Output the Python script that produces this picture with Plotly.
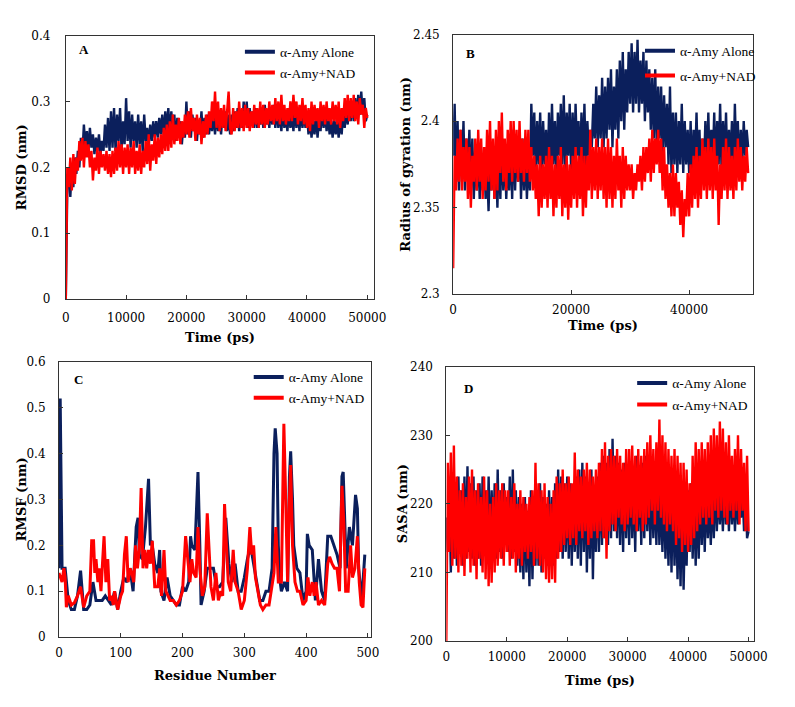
import plotly.graph_objects as go

PAGE_W, PAGE_H = 795, 707
PAD = 8  # default body margin of the page
W, H = PAGE_W - 2 * PAD, PAGE_H - 2 * PAD
NAVY = "#0B1F5C"
RED = "#FF0000"

# ---------------- Panel A : RMSD (nm), sampled every 250 ps ----------------
rmsd_step = 250
rmsd_alone = [
    0.0, 0.17, 0.19, 0.155, 0.2, 0.17, 0.215, 0.19, 0.225, 0.2,
    0.245, 0.22, 0.265, 0.23, 0.255, 0.225, 0.26, 0.23, 0.25, 0.22,
    0.245, 0.225, 0.25, 0.22, 0.24, 0.225, 0.265, 0.23, 0.275, 0.225,
    0.285, 0.23, 0.29, 0.225, 0.28, 0.24, 0.29, 0.225, 0.27, 0.235,
    0.305, 0.24, 0.285, 0.23, 0.28, 0.24, 0.27, 0.23, 0.28, 0.235,
    0.27, 0.225, 0.28, 0.24, 0.26, 0.235, 0.265, 0.24, 0.27, 0.245,
    0.27, 0.245, 0.275, 0.25, 0.28, 0.245, 0.285, 0.255, 0.29, 0.25,
    0.285, 0.255, 0.28, 0.24, 0.275, 0.25, 0.27, 0.235, 0.265, 0.245,
    0.3, 0.25, 0.285, 0.245, 0.28, 0.255, 0.275, 0.24, 0.27, 0.25,
    0.285, 0.245, 0.275, 0.25, 0.28, 0.25, 0.275, 0.255, 0.28, 0.25,
    0.285, 0.255, 0.275, 0.25, 0.28, 0.26, 0.285, 0.255, 0.28, 0.25,
    0.28, 0.255, 0.285, 0.26, 0.29, 0.255, 0.285, 0.26, 0.3, 0.265,
    0.3, 0.26, 0.29, 0.265, 0.285, 0.26, 0.29, 0.26, 0.285, 0.265,
    0.29, 0.26, 0.295, 0.265, 0.285, 0.26, 0.29, 0.265, 0.295, 0.26,
    0.29, 0.26, 0.285, 0.255, 0.29, 0.26, 0.28, 0.255, 0.285, 0.26,
    0.28, 0.255, 0.29, 0.26, 0.285, 0.255, 0.29, 0.26, 0.285, 0.26,
    0.28, 0.25, 0.275, 0.245, 0.27, 0.25, 0.28, 0.245, 0.275, 0.255,
    0.29, 0.26, 0.285, 0.255, 0.28, 0.25, 0.27, 0.245, 0.275, 0.25,
    0.27, 0.245, 0.275, 0.25, 0.285, 0.26, 0.29, 0.265, 0.3, 0.27,
    0.3, 0.27, 0.305, 0.275, 0.31, 0.28, 0.315, 0.28, 0.305, 0.27,
    0.28]
rmsd_nad = [
    0.0, 0.2, 0.17, 0.215, 0.165, 0.22, 0.175, 0.215, 0.195, 0.24,
    0.21, 0.245, 0.2, 0.24, 0.215, 0.235, 0.2, 0.225, 0.18, 0.215,
    0.195, 0.23, 0.19, 0.225, 0.2, 0.22, 0.195, 0.225, 0.19, 0.22,
    0.185, 0.225, 0.19, 0.23, 0.195, 0.24, 0.2, 0.235, 0.19, 0.23,
    0.2, 0.235, 0.19, 0.23, 0.2, 0.24, 0.19, 0.225, 0.195, 0.235,
    0.19, 0.225, 0.2, 0.24, 0.205, 0.25, 0.195, 0.235, 0.21, 0.25,
    0.205, 0.245, 0.215, 0.25, 0.22, 0.26, 0.225, 0.265, 0.225, 0.27,
    0.23, 0.28, 0.235, 0.265, 0.24, 0.275, 0.235, 0.27, 0.245, 0.28,
    0.25, 0.285, 0.245, 0.29, 0.255, 0.275, 0.24, 0.28, 0.25, 0.275,
    0.235, 0.27, 0.245, 0.28, 0.25, 0.285, 0.26, 0.3, 0.27, 0.315,
    0.26, 0.3, 0.255, 0.29, 0.26, 0.295, 0.255, 0.28, 0.315, 0.26,
    0.25, 0.29, 0.255, 0.285, 0.26, 0.3, 0.26, 0.29, 0.255, 0.295,
    0.26, 0.29, 0.255, 0.285, 0.26, 0.295, 0.265, 0.29, 0.26, 0.3,
    0.265, 0.295, 0.26, 0.29, 0.265, 0.3, 0.27, 0.295, 0.265, 0.305,
    0.27, 0.3, 0.265, 0.31, 0.27, 0.295, 0.265, 0.29, 0.27, 0.3,
    0.27, 0.31, 0.275, 0.3, 0.265, 0.295, 0.27, 0.305, 0.265, 0.295,
    0.26, 0.29, 0.255, 0.3, 0.265, 0.295, 0.27, 0.29, 0.26, 0.3,
    0.27, 0.295, 0.265, 0.3, 0.27, 0.29, 0.265, 0.3, 0.27, 0.295,
    0.265, 0.3, 0.26, 0.29, 0.27, 0.305, 0.275, 0.31, 0.27, 0.305,
    0.275, 0.31, 0.27, 0.3, 0.265, 0.305, 0.28, 0.295, 0.26, 0.29,
    0.275]

# ---------------- Panel B : Radius of gyration (nm), every 250 ps ----------------
rg_step = 250
rg_alone = [
    2.38, 2.41, 2.365, 2.4, 2.36, 2.395, 2.37, 2.4, 2.36, 2.39,
    2.37, 2.395, 2.36, 2.39, 2.355, 2.385, 2.36, 2.385, 2.355, 2.38,
    2.36, 2.385, 2.355, 2.375, 2.348, 2.38, 2.36, 2.385, 2.355, 2.38,
    2.35, 2.385, 2.355, 2.39, 2.36, 2.385, 2.355, 2.38, 2.36, 2.39,
    2.355, 2.395, 2.36, 2.39, 2.365, 2.395, 2.355, 2.39, 2.36, 2.385,
    2.355, 2.38, 2.36, 2.41, 2.38, 2.405, 2.37, 2.4, 2.375, 2.405,
    2.37, 2.4, 2.375, 2.395, 2.365, 2.405, 2.37, 2.41, 2.375, 2.4,
    2.37, 2.405, 2.38, 2.41, 2.375, 2.415, 2.37, 2.405, 2.38, 2.41,
    2.37, 2.405, 2.375, 2.41, 2.38, 2.4, 2.37, 2.405, 2.375, 2.41,
    2.37, 2.4, 2.38, 2.395, 2.385, 2.41, 2.39, 2.42, 2.385, 2.415,
    2.39, 2.425, 2.385, 2.42, 2.39, 2.425, 2.395, 2.43, 2.385, 2.42,
    2.395, 2.43, 2.39, 2.435, 2.4, 2.44, 2.395, 2.43, 2.405, 2.44,
    2.41, 2.445, 2.405, 2.44, 2.41, 2.447, 2.405, 2.435, 2.41, 2.44,
    2.4, 2.435, 2.405, 2.43, 2.395, 2.425, 2.39, 2.43, 2.385, 2.42,
    2.39, 2.42, 2.38, 2.415, 2.385, 2.41, 2.375, 2.42, 2.37, 2.405,
    2.375, 2.405, 2.37, 2.4, 2.375, 2.41, 2.37, 2.4, 2.375, 2.395,
    2.37, 2.4, 2.365, 2.395, 2.375, 2.405, 2.37, 2.395, 2.365, 2.39,
    2.37, 2.4, 2.375, 2.405, 2.37, 2.395, 2.375, 2.405, 2.37, 2.4,
    2.375, 2.41, 2.37, 2.4, 2.375, 2.405, 2.37, 2.395, 2.375, 2.4,
    2.37, 2.41, 2.375, 2.4, 2.37, 2.395, 2.375, 2.4, 2.38, 2.395,
    2.385]
rg_nad = [
    2.315, 2.38, 2.36, 2.39, 2.365, 2.395, 2.36, 2.385, 2.365, 2.39,
    2.355, 2.385, 2.35, 2.38, 2.365, 2.39, 2.36, 2.395, 2.365, 2.39,
    2.355, 2.385, 2.36, 2.395, 2.365, 2.4, 2.36, 2.39, 2.355, 2.395,
    2.36, 2.4, 2.37, 2.405, 2.365, 2.39, 2.36, 2.395, 2.37, 2.4,
    2.365, 2.4, 2.37, 2.395, 2.365, 2.4, 2.37, 2.39, 2.365, 2.395,
    2.37, 2.395, 2.365, 2.385, 2.36, 2.38, 2.355, 2.375, 2.345, 2.38,
    2.35, 2.375, 2.355, 2.38, 2.35, 2.385, 2.355, 2.38, 2.345, 2.375,
    2.35, 2.38, 2.355, 2.385, 2.345, 2.375, 2.35, 2.38, 2.343, 2.375,
    2.35, 2.38, 2.355, 2.385, 2.35, 2.38, 2.355, 2.385, 2.345, 2.38,
    2.35, 2.38, 2.36, 2.395, 2.355, 2.385, 2.36, 2.39, 2.355, 2.385,
    2.36, 2.39, 2.355, 2.385, 2.35, 2.39, 2.355, 2.385, 2.35, 2.38,
    2.355, 2.39, 2.36, 2.38, 2.35, 2.385, 2.355, 2.38, 2.36, 2.375,
    2.36, 2.375, 2.355, 2.37, 2.36, 2.375, 2.365, 2.38, 2.36, 2.385,
    2.365, 2.385, 2.37, 2.39, 2.365, 2.395, 2.37, 2.39, 2.375, 2.395,
    2.37, 2.39, 2.36, 2.385, 2.355, 2.375, 2.35, 2.37, 2.345, 2.375,
    2.345, 2.37, 2.35, 2.365, 2.34, 2.36, 2.333, 2.355, 2.345, 2.37,
    2.345, 2.375, 2.35, 2.38, 2.355, 2.385, 2.35, 2.38, 2.355, 2.39,
    2.36, 2.385, 2.355, 2.39, 2.36, 2.385, 2.355, 2.39, 2.36, 2.38,
    2.34, 2.375, 2.355, 2.385, 2.36, 2.39, 2.355, 2.385, 2.36, 2.38,
    2.355, 2.385, 2.36, 2.39, 2.365, 2.385, 2.36, 2.38, 2.365, 2.385,
    2.37]

# ---------------- Panel C : RMSF (nm) per residue ----------------
res_alone = [0, 2, 5, 10, 15, 20, 25, 30, 35, 40, 45, 50, 55, 60, 65, 70, 75, 80, 85, 90,
             95, 100, 105, 110, 115, 120, 125, 128, 130, 135, 140, 145, 148, 150, 155, 160,
             163, 165, 170, 175, 180, 185, 190, 195, 200, 205, 210, 213, 215, 220, 225, 228,
             230, 235, 240, 245, 250, 255, 260, 265, 270, 275, 280, 285, 290, 295, 300, 305,
             310, 315, 320, 325, 330, 335, 340, 345, 348, 350, 353, 355, 358, 360, 365, 370,
             373, 375, 378, 380, 385, 390, 395, 400, 402, 405, 410, 415, 420, 425, 430, 435,
             440, 445, 450, 455, 458, 460, 463, 465, 470, 475, 480, 483, 485, 490, 495]
rmsf_alone = [0.15, 0.52, 0.15, 0.15, 0.08, 0.06, 0.06, 0.09, 0.145, 0.06, 0.06, 0.07, 0.12, 0.08, 0.08, 0.08, 0.09, 0.08, 0.07, 0.1,
              0.06, 0.1, 0.13, 0.12, 0.15, 0.1, 0.24, 0.26, 0.18, 0.17, 0.24, 0.345, 0.2, 0.21, 0.16, 0.14,
              0.19, 0.1, 0.08, 0.13, 0.09, 0.08, 0.07, 0.07, 0.11, 0.1, 0.12, 0.22, 0.2, 0.19, 0.36, 0.2,
              0.07, 0.1, 0.15, 0.15, 0.15, 0.11, 0.11, 0.12, 0.26, 0.16, 0.12, 0.16, 0.1, 0.1, 0.13, 0.17,
              0.2, 0.16, 0.12, 0.08, 0.08, 0.1, 0.1, 0.15, 0.4, 0.455, 0.4, 0.2, 0.12, 0.1, 0.12, 0.1,
              0.35, 0.405, 0.3, 0.2, 0.15, 0.14, 0.08, 0.1, 0.225, 0.2, 0.19, 0.08, 0.17, 0.1, 0.08, 0.22,
              0.22, 0.2, 0.18, 0.15, 0.35, 0.36, 0.25, 0.15, 0.24, 0.2, 0.31, 0.28, 0.15, 0.08, 0.18]
res_nad = [0, 5, 8, 10, 12, 15, 20, 25, 30, 35, 40, 45, 50, 53, 56, 58, 60, 63, 65, 68,
           70, 73, 76, 79, 82, 85, 88, 90, 95, 100, 103, 106, 109, 112, 115, 118, 121, 124, 127, 130,
           133, 136, 139, 142, 145, 148, 151, 155, 160, 163, 166, 170, 173, 176, 180, 185, 190, 195, 200, 205,
           208, 212, 215, 218, 222, 225, 228, 232, 236, 240, 243, 246, 250, 254, 258, 262, 265, 268, 271, 274,
           278, 282, 285, 290, 295, 300, 305, 309, 312, 315, 318, 322, 326, 330, 335, 340, 345, 348, 351, 355,
           360, 364, 367, 370, 373, 375, 378, 382, 386, 390, 395, 400, 403, 406, 410, 413, 416, 420, 425, 430,
           435, 438, 442, 446, 450, 454, 458, 461, 464, 468, 472, 475, 479, 483, 486, 489, 492, 495]
rmsf_nad = [0.14, 0.12, 0.15, 0.13, 0.065, 0.09, 0.07, 0.075, 0.09, 0.11, 0.065, 0.09, 0.1, 0.21, 0.21, 0.14, 0.17, 0.12, 0.15, 0.1,
            0.15, 0.22, 0.12, 0.17, 0.08, 0.09, 0.07, 0.1, 0.06, 0.09, 0.1, 0.18, 0.22, 0.12, 0.15, 0.14, 0.12, 0.2, 0.15, 0.19,
            0.325, 0.15, 0.19, 0.15, 0.19, 0.16, 0.21, 0.11, 0.11, 0.15, 0.09, 0.19, 0.1, 0.09, 0.08, 0.08, 0.07, 0.08, 0.1, 0.22,
            0.17, 0.12, 0.17, 0.14, 0.13, 0.24, 0.15, 0.09, 0.11, 0.27, 0.19, 0.11, 0.08, 0.14, 0.08, 0.1, 0.09, 0.29, 0.2, 0.12,
            0.1, 0.19, 0.12, 0.1, 0.06, 0.08, 0.15, 0.24, 0.18, 0.2, 0.13, 0.1, 0.07, 0.06, 0.07, 0.07, 0.11, 0.14, 0.24, 0.12,
            0.12, 0.465, 0.3, 0.12, 0.3, 0.375, 0.2, 0.12, 0.1, 0.1, 0.07, 0.08, 0.13, 0.09, 0.12, 0.09, 0.12, 0.07, 0.08, 0.07,
            0.16, 0.175, 0.16, 0.15, 0.15, 0.1, 0.33, 0.25, 0.1, 0.1, 0.2, 0.13, 0.15, 0.22, 0.12, 0.07, 0.065, 0.15]

# ---------------- Panel D : SASA (nm), every 250 ps ----------------
sasa_step = 250
sasa_alone = [
    218, 213, 222, 210, 223, 212, 221, 211, 224, 213,
    222, 211, 224, 212, 225.5, 213, 223, 212, 224, 211,
    222, 212, 223, 211, 224, 213, 222, 212, 224, 213,
    222, 214, 223, 212, 225, 213, 222, 212, 223, 214,
    221, 213, 224, 212, 225, 213, 222, 211, 221, 210,
    220, 209, 221, 210, 219, 208, 222, 209, 220, 211,
    222, 211, 223, 210, 221, 212, 220, 211, 222, 212,
    221, 211, 223, 212, 225, 213, 224, 212, 223, 213,
    224, 212, 223, 211, 222, 213, 224, 212, 225, 211,
    226, 213, 224, 210, 223, 212, 225, 209, 222, 213,
    224, 213, 226, 214, 227, 215, 226, 214, 228, 215,
    229.5, 216, 227, 215, 226, 214, 225, 213, 226, 215,
    225, 214, 226, 215, 224, 213, 227, 216, 225, 214,
    226, 215, 227, 216, 225, 214, 224, 215, 223, 214,
    224, 214, 222, 213, 223, 212, 221, 211, 222, 210,
    223, 211, 221, 209, 220, 208, 222, 207.5, 218, 211,
    222, 213, 223, 212, 221, 211, 222, 212, 223, 214,
    222, 213, 223, 215, 221, 214, 222, 215, 224, 216,
    223, 217, 222, 216, 224, 217, 223, 216, 224, 217,
    222, 216, 223, 217, 224, 218, 222, 216, 223, 215,
    216]
sasa_nad = [
    200, 226, 213, 227.5, 211, 228.5, 212, 224, 210, 222,
    211, 223, 209.5, 221, 212, 224, 210, 225, 211, 222,
    209, 223, 212, 221, 210, 224, 209, 222, 208, 220,
    208.5, 221, 210, 223, 211, 222, 212, 223, 211, 222,
    213, 222, 211, 221, 212, 223, 210, 220, 212, 222,
    211, 221, 213, 220, 212, 221, 213, 222, 211, 226,
    212, 223, 211, 222, 210, 223, 209, 221, 208.5, 220,
    209, 222, 208.5, 224, 212, 223, 213, 225, 214, 223,
    215, 224, 214, 223, 215, 227.5, 214, 225, 216, 224,
    215, 225, 216, 226, 214, 225, 215, 224, 216, 225,
    215, 226, 216, 228, 215, 229, 212, 227, 216, 228,
    217, 227, 216, 228, 218, 227, 217, 226, 216, 228,
    217, 228, 218, 228.5, 217, 227, 216, 228, 218, 227,
    216, 228, 217, 229, 218, 230, 219, 228, 217, 229,
    219, 232.3, 218, 230, 217, 229, 216, 228, 217, 227,
    216, 228, 214, 227, 215, 226, 213, 226, 214, 225,
    213, 223, 214, 227, 215, 229, 216, 228, 217, 229,
    218, 228, 217, 229, 218, 230, 217, 231, 219, 230,
    218, 232, 219, 231, 218, 229, 217, 230, 219, 227,
    218, 228, 219, 230, 217, 228, 219, 226, 216, 227,
    216]

series_names = ["α-Amy Alone", "α-Amy+NAD"]


def times(values, step):
    return [i * step for i in range(len(values))]


def X(px):
    # page pixel -> paper fraction of the figure (figure sits inside the body margin)
    return (px - PAD) / W


def Y(py):
    return 1 - (py - PAD) / H


fig = go.Figure()

panels = [
    ("", "legend", (times(rmsd_alone, rmsd_step), rmsd_alone), (times(rmsd_nad, rmsd_step), rmsd_nad), 2.4),
    ("2", "legend2", (times(rg_alone, rg_step), rg_alone), (times(rg_nad, rg_step), rg_nad), 2.4),
    ("3", "legend3", (res_alone, rmsf_alone), (res_nad, rmsf_nad), 3.0),
    ("4", "legend4", (times(sasa_alone, sasa_step), sasa_alone), (times(sasa_nad, sasa_step), sasa_nad), 2.4),
]

for suf, leg, (xa, ya), (xn, yn), lw in panels:
    for (xx, yy), name, col in (((xa, ya), series_names[0], NAVY), ((xn, yn), series_names[1], RED)):
        fig.add_trace(go.Scatter(
            x=xx, y=yy, mode="lines", name=name,
            line=dict(color=col, width=lw), showlegend=False,
            xaxis="x" + suf, yaxis="y" + suf, hoverinfo="skip"))
    # legend keys (thick sample lines, no data drawn)
    for name, col in ((series_names[0], NAVY), (series_names[1], RED)):
        fig.add_trace(go.Scatter(
            x=[None], y=[None], mode="lines", name=name,
            line=dict(color=col, width=4), showlegend=True,
            xaxis="x" + suf, yaxis="y" + suf, legend=leg,
            legendgroup=leg + name, hoverinfo="skip"))

# plot-area rectangles in page pixels: (left, right, top, bottom)
boxes = [(63, 378, 29, 298), (459, 766, 28, 293), (56, 375, 362, 643), (452, 767, 367, 647)]
xranges = [[0, 51100], [0, 50900], [0, 505], [0, 50970]]
yranges = [[0, 0.4], [2.3, 2.45], [0, 0.6], [200, 240]]
xticks = [[0, 10000, 20000, 30000, 40000, 50000], [0, 20000, 40000],
          [0, 100, 200, 300, 400, 500], [0, 10000, 20000, 30000, 40000, 50000]]
yticks = [[0, 0.1, 0.2, 0.3, 0.4], [2.3, 2.35, 2.4, 2.45],
          [0, 0.1, 0.2, 0.3, 0.4, 0.5, 0.6], [200, 210, 220, 230, 240]]
ytext = [["0", "0.1", "0.2", "0.3", "0.4"], ["2.3", "2.35", "2.4", "2.45"],
         ["0", "0.1", "0.2", "0.3", "0.4", "0.5", "0.6"], ["200", "210", "220", "230", "240"]]
xtitles = ["Time (ps)", "Time (ps)", "Residue Number", "Time (ps)"]
ytitles = ["RMSD (nm)", "Radius of gyration (nm)", "RMSF (nm)", "SASA (nm)"]
letters = ["A", "B", "C", "D"]
letter_pos = [(82, 43), (477, 47), (76, 380), (475, 389)]
xtitle_y = [337, 325, 682, 687]
ytitle_x = [18, 410, 18, 408]
x_standoff = [7, 4, 4, 5]
y_standoff = [12, 10, 10, 10]
legend_pos = [(241, 30, 0), (650, 29, 4), (250, 362, 0), (642, 368, 1)]

tickfont = dict(family="DejaVu Serif", size=12, color="#000")
titlefont = dict(family="DejaVu Serif", size=13, color="#000", weight="bold")
AX = "#333333"

layout = {}
for i, suf in enumerate(["", "2", "3", "4"]):
    l, r, t, b = boxes[i]
    layout["xaxis" + suf] = dict(
        domain=[X(l), X(r)], range=xranges[i], anchor="y" + suf,
        tickvals=xticks[i], ticktext=[str(v) for v in xticks[i]],
        ticks="inside", ticklen=4, tickcolor=AX, showline=True, mirror=True,
        linecolor=AX, linewidth=1, showgrid=False, zeroline=False,
        tickfont=tickfont, ticklabelstandoff=x_standoff[i], fixedrange=True)
    layout["yaxis" + suf] = dict(
        domain=[Y(b), Y(t)], range=yranges[i], anchor="x" + suf,
        tickvals=yticks[i], ticktext=ytext[i],
        ticks="inside", ticklen=4, tickcolor=AX, showline=True, mirror=True,
        linecolor=AX, linewidth=1, showgrid=False, zeroline=False,
        tickfont=tickfont, ticklabelstandoff=y_standoff[i], fixedrange=True)
    lx, ly, gap = legend_pos[i]
    layout["legend" if suf == "" else "legend" + suf] = dict(
        x=X(lx), y=Y(ly), xanchor="left", yanchor="top", xref="paper", yref="paper",
        bgcolor="rgba(0,0,0,0)", borderwidth=0, traceorder="grouped", tracegroupgap=gap,
        font=dict(family="Liberation Serif", size=13.5, color="#000"), itemwidth=30)

annotations = []
for i in range(4):
    l, r, t, b = boxes[i]
    annotations.append(dict(text=xtitles[i], x=X((l + r) / 2), y=Y(xtitle_y[i]),
                            xref="paper", yref="paper", showarrow=False,
                            xanchor="center", yanchor="middle", font=titlefont))
    annotations.append(dict(text=ytitles[i], x=X(ytitle_x[i]), y=Y((t + b) / 2),
                            xref="paper", yref="paper", showarrow=False, textangle=-90,
                            xanchor="center", yanchor="middle", font=titlefont))
    lx, ly = letter_pos[i]
    annotations.append(dict(text=letters[i], x=X(lx), y=Y(ly), xref="paper", yref="paper",
                            showarrow=False, xanchor="center", yanchor="middle",
                            font=dict(family="Liberation Serif", size=13, color="#000", weight="bold")))

fig.update_layout(
    width=W, height=H, margin=dict(l=0, r=0, t=0, b=0),
    paper_bgcolor="white", plot_bgcolor="white", showlegend=True,
    annotations=annotations, **layout)

fig.write_html("out.html", config={"displayModeBar": False})
